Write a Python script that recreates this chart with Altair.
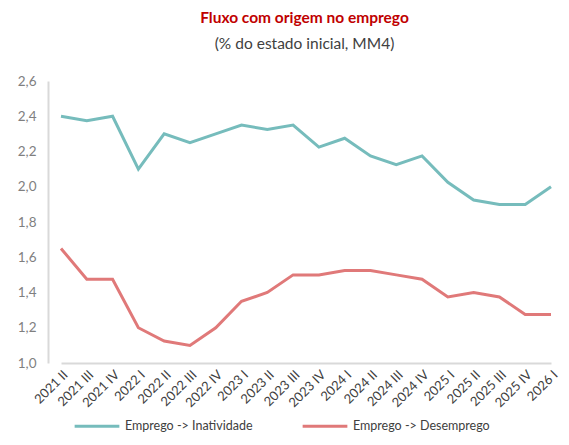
import altair as alt
import pandas as pd

quarters = ["2021 II", "2021 III", "2021 IV", "2022 I", "2022 II", "2022 III", "2022 IV",
            "2023 I", "2023 II", "2023 III", "2023 IV", "2024 I", "2024 II", "2024 III",
            "2024 IV", "2025 I", "2025 II", "2025 III", "2025 IV", "2026 I"]
inatividade = [2.40, 2.375, 2.40, 2.10, 2.30, 2.25, 2.30, 2.35, 2.325, 2.35, 2.225, 2.275,
               2.175, 2.125, 2.175, 2.025, 1.925, 1.90, 1.90, 2.00]
desemprego = [1.65, 1.475, 1.475, 1.20, 1.125, 1.10, 1.20, 1.35, 1.40, 1.50, 1.50, 1.525,
              1.525, 1.50, 1.475, 1.375, 1.40, 1.375, 1.275, 1.275]
series_names = ["Emprego -> Inatividade", "Emprego -> Desemprego"]
colors = ["#76bcbc", "#e07979"]

rows = []
for name, vals in zip(series_names, [inatividade, desemprego]):
    for q, v in zip(quarters, vals):
        rows.append({"quarter": q, "value": v, "serie": name})
df = pd.DataFrame(rows)

FONT = "Lato"

chart = alt.Chart(df).mark_line(strokeWidth=3).encode(
    x=alt.X("quarter:N", sort=quarters,
            scale=alt.Scale(type="point", range=[13, 503], padding=0),
            axis=alt.Axis(title=None, labelAngle=-45, ticks=False, grid=False,
                          domainColor="#d9d9d9", domainWidth=2, labelColor="#404040",
                          labelFontSize=13, labelPadding=5, labelFont=FONT)),
    y=alt.Y("value:Q", scale=alt.Scale(domain=[1.0, 2.6], nice=False, zero=False),
            axis=alt.Axis(title=None, values=[1.0, 1.2, 1.4, 1.6, 1.8, 2.0, 2.2, 2.4, 2.6],
                          labelExpr="replace(format(datum.value, '.1f'), '.', ',')",
                          ticks=False, grid=False, domainColor="#d9d9d9", domainWidth=2,
                          labelColor="#7f7f7f", labelFontSize=13.5, labelPadding=12,
                          labelFont=FONT)),
    color=alt.Color("serie:N", sort=series_names,
                    scale=alt.Scale(domain=series_names, range=colors),
                    legend=alt.Legend(title=None, orient="bottom", direction="horizontal",
                                      padding=25, offset=-33,
                                      symbolType="stroke", symbolSize=2000,
                                      symbolStrokeWidth=3, labelFontSize=12.5,
                                      labelColor="#404040", labelFont=FONT,
                                      columnPadding=43, labelLimit=300)),
).properties(
    width=513,
    height=282,
    autosize=alt.AutoSizeParams(type="none"),
    title=alt.TitleParams(
        text="Fluxo com origem no emprego",
        subtitle="(% do estado inicial, MM4)",
        color="#c00000", fontSize=15.5, fontWeight="bold", font=FONT,
        subtitleColor="#404040", subtitleFontSize=15.5, subtitleFont=FONT,
        anchor="middle", offset=22, subtitlePadding=10,
    ),
    padding={"left": 40, "right": 0, "top": 73, "bottom": 74},
).configure_view(stroke=None)

chart.save("out.html", embed_options={"renderer": "svg", "actions": False})
